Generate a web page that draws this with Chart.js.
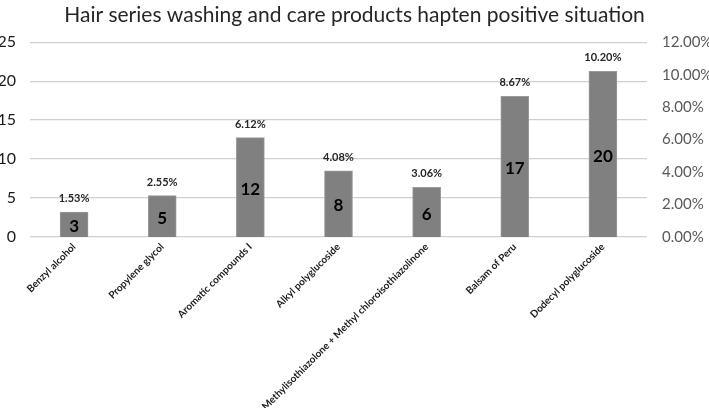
<!DOCTYPE html>
<html>
<head>
<meta charset="utf-8">
<script src="https://cdn.jsdelivr.net/npm/chart.js@4/dist/chart.umd.min.js"></script>
<style>
html,body{margin:0;padding:0;background:#fff;}
#wrap{width:709px;height:408px;position:relative;}
</style>
</head>
<body>
<div id="wrap"><canvas id="c" width="709" height="408"></canvas></div>
<script>
const categories = ["Benzyl alcohol","Propylene glycol","Aromatic compounds I","Alkyl polyglucoside","Methylisothiazolone + Methyl chloroisothiazolinone","Balsam of Peru","Dodecyl polyglucoside"];
const counts = [3,5,12,8,6,17,20];
const percents = [1.53,2.55,6.12,4.08,3.06,8.67,10.20];
const leftTicks = [0,5,10,15,20,25];
const rightTicks = [0,2,4,6,8,10,12];

const FONT = "Lato, 'Open Sans', sans-serif";

const labelPlugin = {
  id: 'barLabels',
  afterDatasetsDraw(chart) {
    const ctx = chart.ctx;
    const meta = chart.getDatasetMeta(0);
    ctx.save();
    ctx.textAlign = 'center';
    meta.data.forEach((bar, i) => {
      ctx.fillStyle = '#000000';
      ctx.font = "bold 17px " + FONT;
      ctx.textBaseline = 'middle';
      ctx.fillText(String(counts[i]), bar.x, (bar.y + bar.base) / 2 + 2);
      ctx.fillStyle = '#262626';
      ctx.font = "bold 11px " + FONT;
      ctx.textBaseline = 'bottom';
      ctx.fillText(percents[i].toFixed(2) + '%', bar.x, bar.y - 8);
    });
    ctx.restore();
  }
};

new Chart(document.getElementById('c'), {
  type: 'bar',
  data: {
    labels: categories,
    datasets: [{
      data: percents,
      yAxisID: 'y1',
      backgroundColor: '#808080',
      borderColor: '#9a9a9a',
      borderWidth: 1,
      barThickness: 28
    }]
  },
  options: {
    responsive: false,
    animation: false,
    layout: { padding: { left: 0, right: 0, top: 0, bottom: 0 } },
    plugins: {
      legend: { display: false },
      tooltip: { enabled: false },
      title: {
        display: true,
        text: 'Hair series washing and care products hapten positive situation',
        color: '#262626',
        font: { family: FONT, size: 21, weight: 'normal' },
        padding: { top: 3, bottom: 14 }
      }
    },
    scales: {
      x: {
        grid: { display: false },
        border: { display: false },
        ticks: {
          autoSkip: false,
          minRotation: 45,
          maxRotation: 45,
          padding: -4,
          color: '#1a1a1a',
          font: { family: FONT, size: 10, weight: 'bold' }
        },
        afterFit(s) { s.height = 171; }
      },
      y: {
        position: 'left',
        min: 0, max: 25,
        afterBuildTicks(s) { s.ticks = leftTicks.map(v => ({ value: v })); },
        grid: { color: '#d0d0d0', lineWidth: 1.3, drawTicks: false },
        border: { display: false },
        ticks: {
          padding: 14,
          color: '#1a1a1a',
          font: { family: FONT, size: 16 }
        },
        afterFit(s) { s.width = 30; }
      },
      y1: {
        position: 'right',
        min: 0, max: 12,
        afterBuildTicks(s) { s.ticks = rightTicks.map(v => ({ value: v })); },
        grid: { display: false, drawTicks: false },
        border: { display: false },
        ticks: {
          padding: 15,
          color: '#595959',
          font: { family: FONT, size: 15 },
          callback: v => Number(v).toFixed(2) + '%'
        },
        afterFit(s) { s.width = 62; }
      }
    }
  },
  plugins: [labelPlugin]
});
</script>
</body>
</html>
